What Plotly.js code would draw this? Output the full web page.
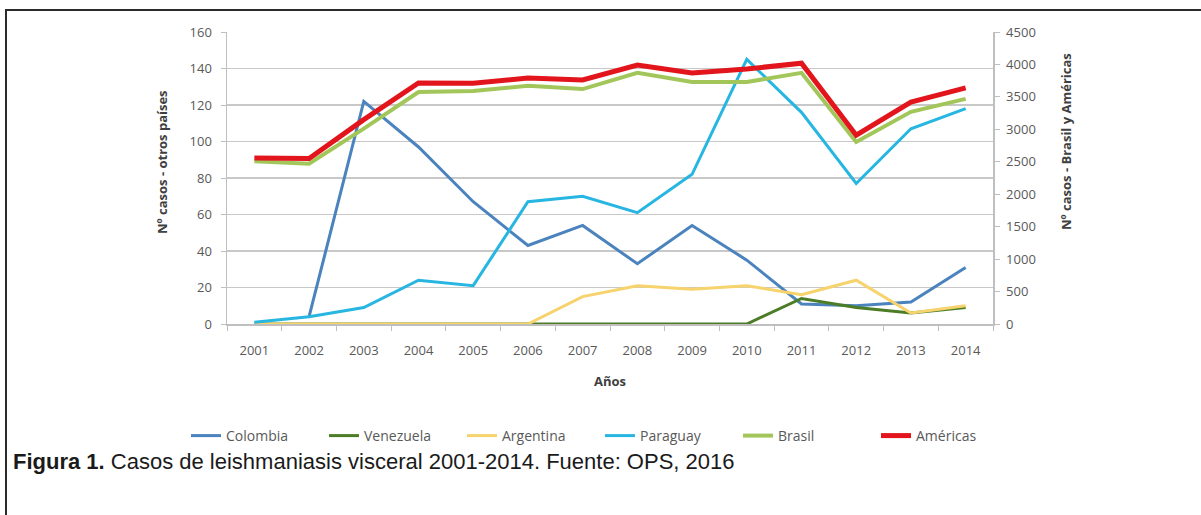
<!DOCTYPE html>
<html>
<head>
<meta charset="utf-8">
<script src="https://cdn.plot.ly/plotly-3.0.1.min.js"></script>
<style>
html,body{margin:0;padding:0;background:#fff;}
#chart{width:1201px;height:515px;}
</style>
</head>
<body>
<div id="chart"></div>
<script>
var years = ["2001","2002","2003","2004","2005","2006","2007","2008","2009","2010","2011","2012","2013","2014"];
var colombia  = [null, 4, 122, 97, 67, 43, 54, 33, 54, 35, 11, 10, 12, 31];
var venezuela = [0, 0, 0, 0, 0, 0, 0, 0, 0, 0, 14, 9, 6, 9];
var argentina = [0, 0, 0, 0, 0, 0, 15, 21, 19, 21, 16, 24, 6, 10];
var paraguay  = [1, 4, 9, 24, 21, 67, 70, 61, 82, 145, 116, 77, 107, 118];
var brasil    = [2510, 2470, 3010, 3575, 3590, 3670, 3620, 3870, 3730, 3730, 3870, 2805, 3270, 3470];
var americas  = [2560, 2550, 3150, 3715, 3710, 3790, 3760, 3990, 3870, 3930, 4020, 2910, 3420, 3640];
var yLeftTicks  = [0, 20, 40, 60, 80, 100, 120, 140, 160];
var yRightTicks = [0, 500, 1000, 1500, 2000, 2500, 3000, 3500, 4000, 4500];

// plot area in pixels: x 227..993, y 32..324
var L = 227, R = 993, T = 32, B = 324, W = R - L, H = B - T;
function px(x){ return (x - L) / W; }
function py(y){ return (B - y) / H; }

var font = "Open Sans, DejaVu Sans, sans-serif";
function tr(name, y, color, width, axis){
  return {type:"scatter", mode:"lines", name:name, x:years, y:y, yaxis:axis,
          line:{color:color, width:width}, connectgaps:false, hoverinfo:"x+y+name"};
}
var data = [
  tr("Colombia", colombia, "#4a83bd", 3, "y"),
  tr("Venezuela", venezuela, "#4c7d26", 3, "y"),
  tr("Argentina", argentina, "#f6d36c", 3, "y"),
  tr("Paraguay", paraguay, "#27b6e2", 3, "y"),
  tr("Brasil", brasil, "#a3c65a", 4, "y2"),
  tr("Américas", americas, "#e2151c", 5, "y2")
];

var layout = {
  width:1201, height:515,
  margin:{l:L, r:1201-R, t:T, b:515-B, pad:0},
  paper_bgcolor:"#ffffff", plot_bgcolor:"#ffffff",
  font:{family:font, color:"#595959", size:12},
  showlegend:true,
  xaxis:{type:"category", range:[-0.5, 13.5], tickson:"boundaries", ticks:"outside", ticklen:5, tickcolor:"#bfbfbf",
         showline:true, linecolor:"#bfbfbf", linewidth:1.5, showgrid:false, zeroline:false,
         ticklabelstandoff:14, tickfont:{size:13, color:"#595959"}, fixedrange:true},
  yaxis:{range:[0,160], tickvals:yLeftTicks, ticks:"outside", ticklen:5, tickcolor:"#bfbfbf",
         showline:true, linecolor:"#bfbfbf", linewidth:1.5, showgrid:true, gridcolor:"#c8c8c8", gridwidth:1.5,
         zeroline:false, ticklabelstandoff:6, tickfont:{size:13, color:"#595959"}, fixedrange:true},
  yaxis2:{range:[0,4500], tickvals:yRightTicks, overlaying:"y", side:"right", ticks:"outside", ticklen:5,
          tickcolor:"#bfbfbf", showline:true, linecolor:"#bfbfbf", linewidth:1.5, showgrid:false, zeroline:false,
          ticklabelstandoff:4, tickfont:{size:13, color:"#595959"}, fixedrange:true},
  legend:{orientation:"h", x:px(186), xanchor:"left", y:py(420), yanchor:"top",
          entrywidth:93, entrywidthmode:"pixels", font:{size:14, color:"#595959"},
          bgcolor:"rgba(0,0,0,0)", traceorder:"normal"},
  annotations:[
    {text:"<b>Nº casos - otros países</b>", xref:"paper", yref:"paper", x:px(162), y:py(162),
     xanchor:"center", yanchor:"middle",
     textangle:-90, showarrow:false, font:{size:13, color:"#404040"}},
    {text:"<b>Nº casos - Brasil y Américas</b>", xref:"paper", yref:"paper", x:px(1066), y:py(142),
     xanchor:"center", yanchor:"middle",
     textangle:-90, showarrow:false, font:{size:13, color:"#404040"}},
    {text:"<b>Años</b>", xref:"paper", yref:"paper", x:px(610), y:py(381),
     xanchor:"center", yanchor:"middle",
     showarrow:false, font:{size:13, color:"#404040"}},
    {text:"<b>Figura 1.</b> Casos de leishmaniasis visceral 2001-2014. Fuente: OPS, 2016",
     xref:"paper", yref:"paper", x:px(11), xanchor:"left", y:py(462), yanchor:"middle",
     showarrow:false, font:{family:"Liberation Sans, Arial, sans-serif", size:22, color:"#1a1a1a"}}
  ],
  shapes:[
    {type:"line", xref:"paper", yref:"paper", x0:px(5), x1:px(1201), y0:py(10), y1:py(10),
     line:{color:"#2b2b2b", width:2}},
    {type:"line", xref:"paper", yref:"paper", x0:px(6), x1:px(6), y0:py(10), y1:py(515),
     line:{color:"#2b2b2b", width:2}}
  ]
};

Plotly.newPlot("chart", data, layout, {displayModeBar:false, staticPlot:true});
</script>
</body>
</html>
